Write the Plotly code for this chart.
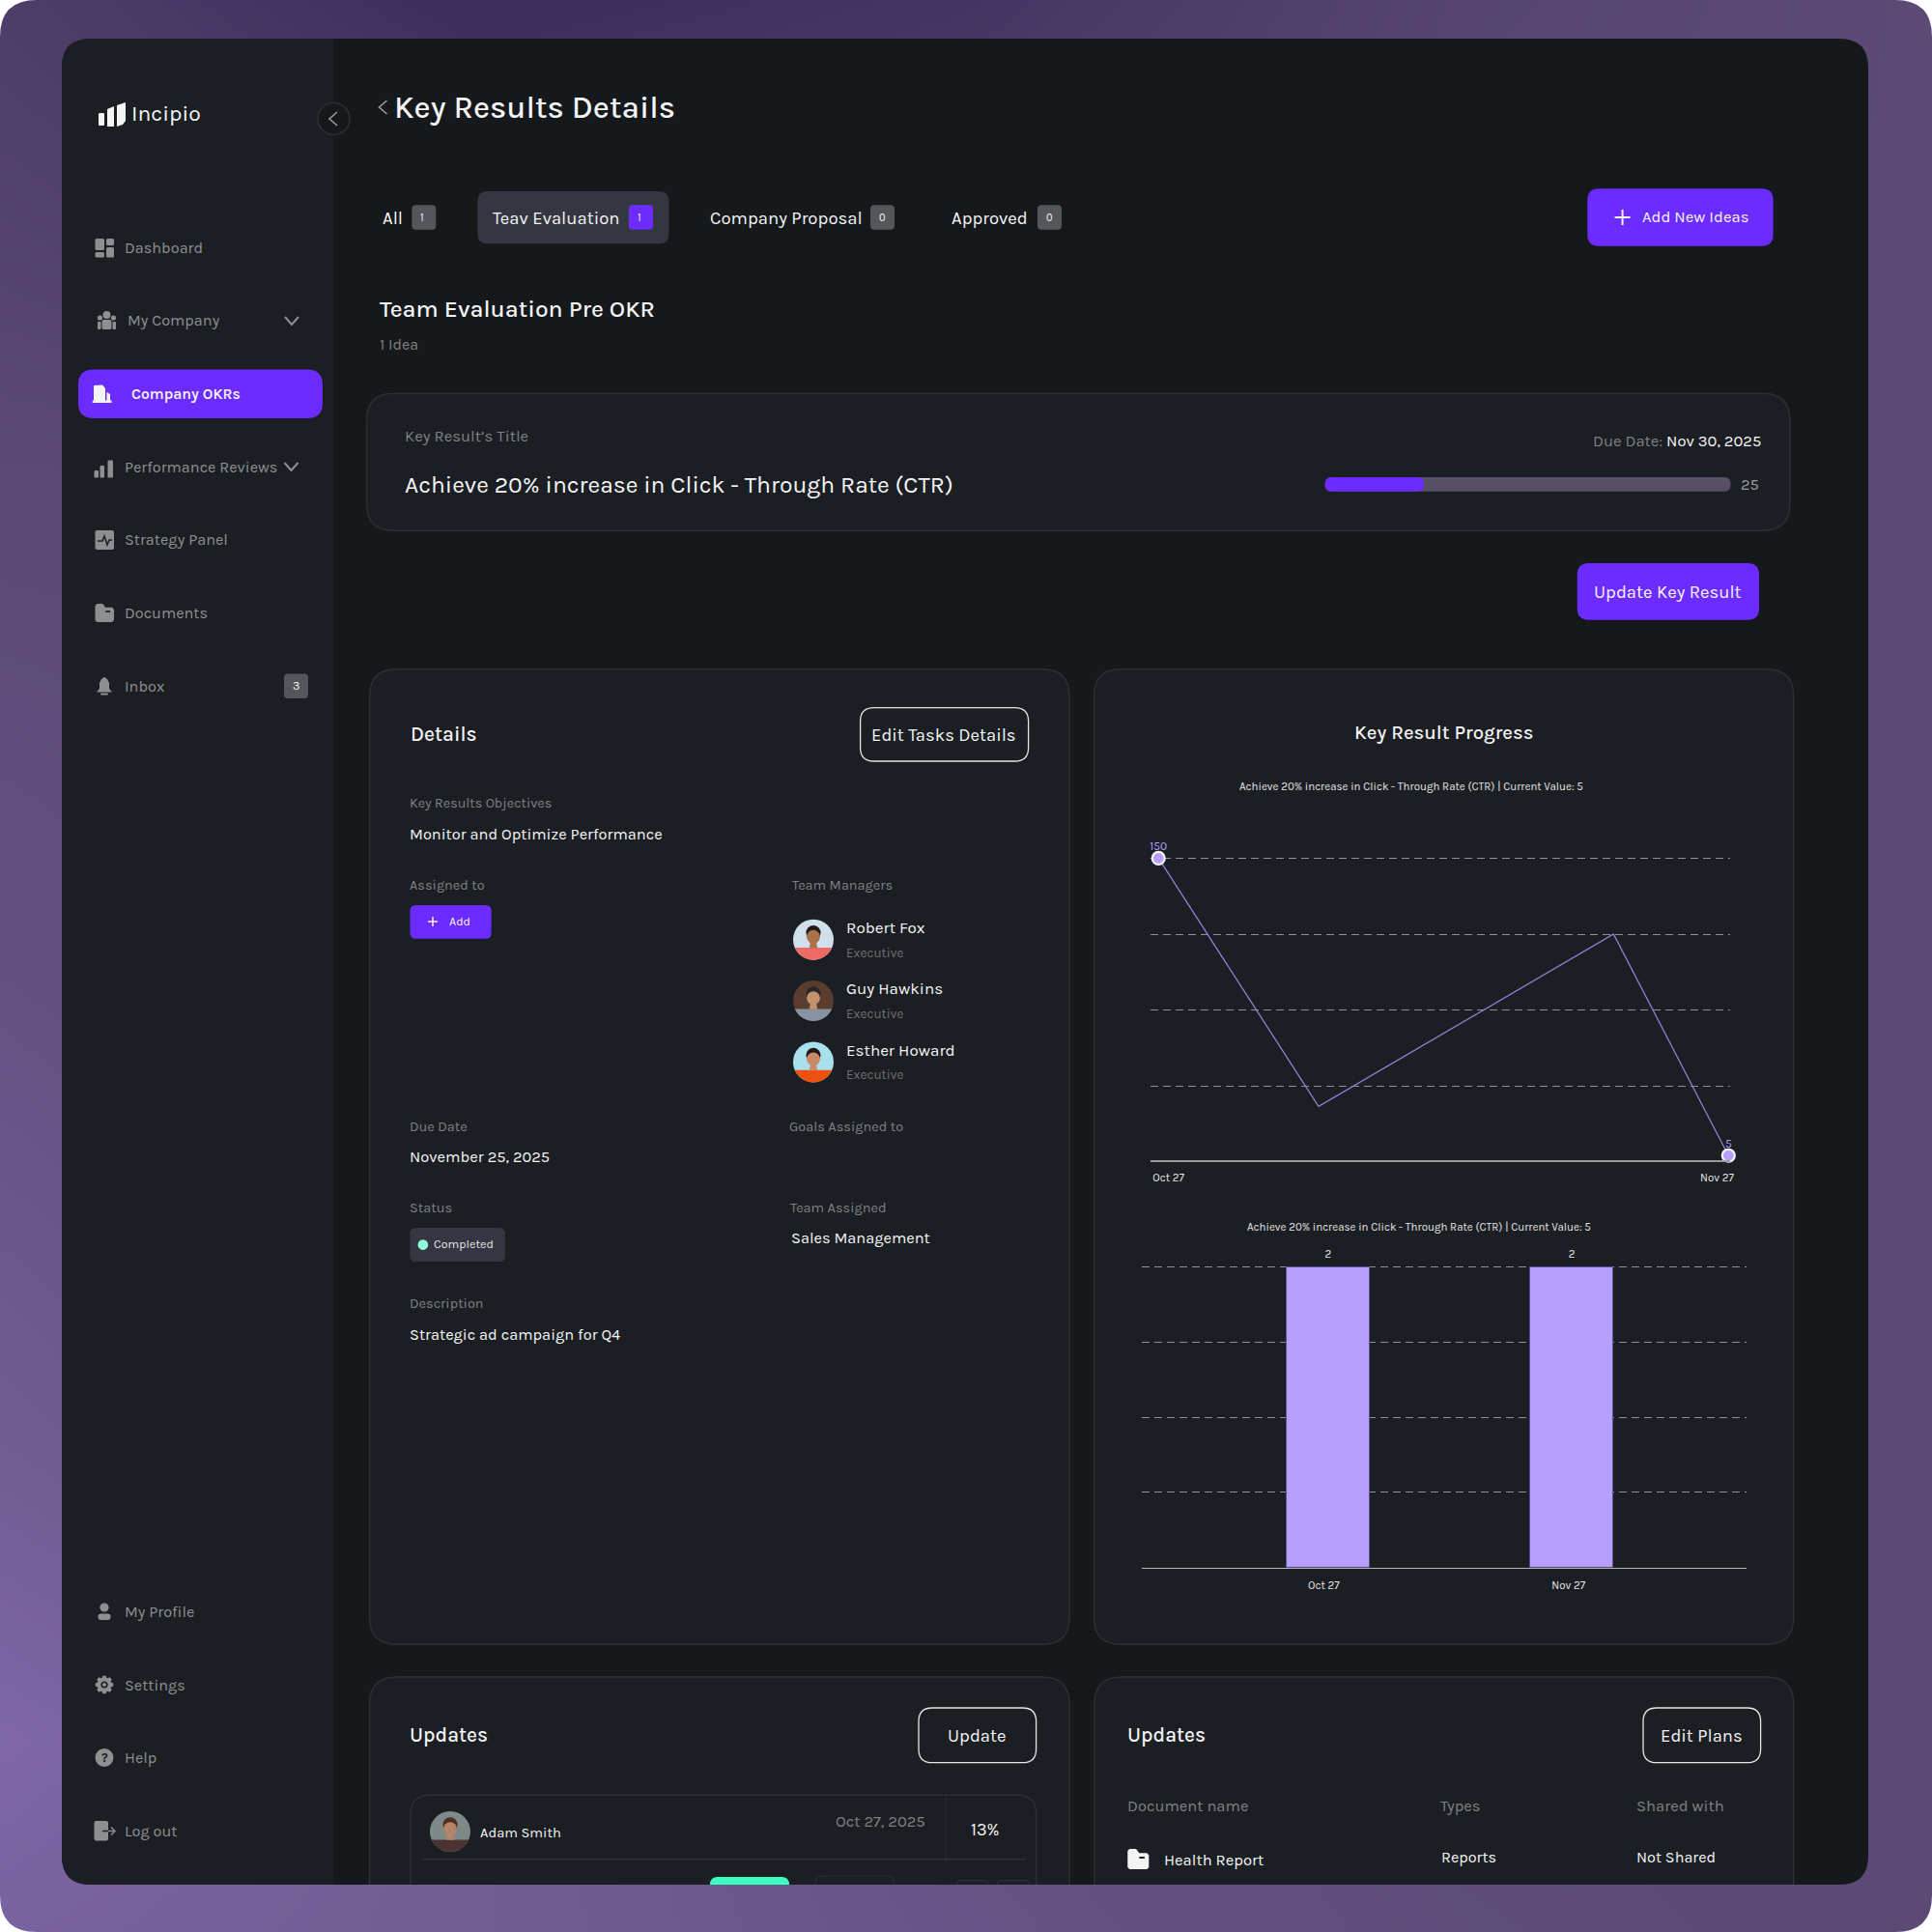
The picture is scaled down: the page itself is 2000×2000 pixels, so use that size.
import math

import plotly.graph_objects as go

# chart data
LINE_TITLE = "Achieve 20% increase in Click - Through Rate (CTR) | Current Value: 5"
LINE_DATES = ["2025-10-27", "2025-11-04 17:00", "2025-11-20 18:00", "2025-11-27"]
LINE_VALUES = [150, 29, 113, 5]
LINE_POINT_LABELS = ["150", "", "", "5"]
LINE_GRID = [150, 113, 76, 39]
LINE_TICKS = ["2025-10-27 13:00", "2025-11-26 09:00"]
LINE_TICK_LABELS = ["Oct 27", "Nov 27"]

BAR_CATEGORIES = ["Oct 27", "Nov 27"]
BAR_VALUES = [2, 2]
BAR_GRID = [0.5, 1, 1.5, 2]
BAR_TICKS = [-0.018, 0.987]  # labels sit a touch left of the bar centres

# page backdrop, coarse brightness grid for the purple wash
BACK_X = [0, 500, 1000, 1500, 2000]
BACK_Y = [0, 500, 1000, 1500, 1800, 2000]
BACK_Z = [
    [0.30, 0.05, 0.16, 0.42, 0.50],
    [0.50, 0.50, 0.50, 0.50, 0.50],
    [0.62, 0.50, 0.50, 0.50, 0.50],
    [0.80, 0.60, 0.50, 0.50, 0.50],
    [0.98, 0.80, 0.62, 0.52, 0.50],
    [0.90, 0.80, 0.66, 0.55, 0.50],
]

SIDEBAR_TOP = ["Dashboard", "My Company", "Company OKRs", "Performance Reviews",
               "Strategy Panel", "Documents", "Inbox"]
SIDEBAR_BOTTOM = ["My Profile", "Settings", "Help", "Log out"]
MANAGERS = ["Robert Fox", "Guy Hawkins", "Esther Howard"]

FONT = "Karla, Lato, 'Open Sans', sans-serif"
PURPLE = "#6c2cff"
LILAC = "#b69fff"
WHITE = "#f4f4f5"
GREY = "#7e8184"
ICON = "#8d8f92"
SIDE_BG = "#1b1f23"
MAIN_BG = "#15191c"
CARD_BG = "#1b1f23"
EDGE = "#2b3036"
BADGE = "#54565b"
CHIP = "#343741"

shapes = []
notes = []


def add_shape(**kw):
    shapes.append(dict(xref="x2", yref="y2", layer="below", **kw))


def rrect_path(x0, y0, x1, y1, r, open_bottom=False):
    top = f"M{x0},{y0 + r} Q{x0},{y0} {x0 + r},{y0} L{x1 - r},{y0} Q{x1},{y0} {x1},{y0 + r} "
    if open_bottom:
        return top + f"L{x1},{y1} L{x0},{y1} Z"
    return top + f"L{x1},{y1 - r} Q{x1},{y1} {x1 - r},{y1} L{x0 + r},{y1} Q{x0},{y1} {x0},{y1 - r} Z"


def box(x0, y0, x1, y1, r=0, fill="rgba(0,0,0,0)", line=None, lw=1.3, open_bottom=False):
    add_shape(type="path", path=rrect_path(x0, y0, x1, y1, r, open_bottom), fillcolor=fill,
              line=dict(color=line or "rgba(0,0,0,0)", width=lw if line else 0))


def open_card(x0, y0, x1, y1, r=28, fill=CARD_BG, line=EDGE, lw=1.5):
    # card that runs off the panel's bottom edge, no bottom border
    box(x0, y0, x1, y1, r, fill=fill, open_bottom=True)
    add_shape(type="path",
              path=f"M{x0},{y1} L{x0},{y0 + r} Q{x0},{y0} {x0 + r},{y0} L{x1 - r},{y0} Q{x1},{y0} {x1},{y0 + r} L{x1},{y1}",
              line=dict(color=line, width=lw))


def circle(cx, cy, r, fill="rgba(0,0,0,0)", line=None, lw=1.3):
    add_shape(type="circle", x0=cx - r, x1=cx + r, y0=cy - r, y1=cy + r, fillcolor=fill,
              line=dict(color=line or "rgba(0,0,0,0)", width=lw if line else 0))


def poly(points, fill=None, line=None, lw=1.6, close=True):
    path = "M" + " L".join(f"{x},{y}" for x, y in points) + (" Z" if close else "")
    add_shape(type="path", path=path, fillcolor=fill or "rgba(0,0,0,0)",
              line=dict(color=line or "rgba(0,0,0,0)", width=lw if line else 0))


def txt(x, y, s, size, color=WHITE, anchor="left", weight=None):
    notes.append(dict(xref="x2", yref="y2", x=x, y=y, text=s, showarrow=False, xanchor=anchor,
                      yanchor="middle", borderpad=0, borderwidth=0,
                      font=dict(family=FONT, size=size, color=color, weight=weight)))


def chevron_down(cx, cy, w=7, h=5, color=ICON):
    poly([(cx - w, cy - h + 1), (cx, cy + h - 1), (cx + w, cy - h + 1)], line=color, lw=2, close=False)


def chevron_left(cx, cy, w=4, h=7, color=ICON):
    poly([(cx + w, cy - h), (cx - w, cy), (cx + w, cy + h)], line=color, lw=1.6, close=False)


def plus(cx, cy, s, color=WHITE, lw=2):
    poly([(cx - s, cy), (cx + s, cy)], line=color, lw=lw, close=False)
    poly([(cx, cy - s), (cx, cy + s)], line=color, lw=lw, close=False)


def disc_segment(cx, cy, r, frac):
    # lower part of a circle, used for the shoulders on the avatars
    a0 = math.asin(frac)
    steps = 16
    return [(cx + r * math.cos(a0 + (math.pi - 2 * a0) * i / steps),
             cy + r * math.sin(a0 + (math.pi - 2 * a0) * i / steps)) for i in range(steps + 1)]


def avatar(cx, cy, r, bg, shirt, skin, hair):
    circle(cx, cy, r, fill=bg)
    poly(disc_segment(cx, cy, r, 0.4), fill=shirt)
    circle(cx, cy - r * 0.34, r * 0.36, fill=hair)
    circle(cx, cy - r * 0.14, r * 0.33, fill=skin)
    poly([(cx - r * 0.14, cy + r * 0.1), (cx + r * 0.14, cy + r * 0.1),
          (cx + r * 0.2, cy + r * 0.42), (cx - r * 0.2, cy + r * 0.42)], fill=skin)


def folder(x0, y0, x1, y1, color):
    w = x1 - x0
    h = y1 - y0
    poly([(x0, y0 + 2), (x0 + 2, y0), (x0 + w * 0.4, y0), (x0 + w * 0.55, y0 + h * 0.2),
          (x1 - 2, y0 + h * 0.2), (x1, y0 + h * 0.3), (x1, y1 - 2), (x1 - 2, y1), (x0 + 2, y1), (x0, y1 - 2)],
         fill=color)
    box(x0 + w * 0.55, y0 + h * 0.38, x0 + w * 0.8, y0 + h * 0.48, 0, fill=SIDE_BG)


def gear(cx, cy, r0, r1, teeth=8):
    pts = []
    for i in range(teeth):
        a = 2 * math.pi * i / teeth
        for da, rr in [(-0.3, r0), (-0.17, r1), (0.17, r1), (0.3, r0)]:
            pts.append((cx + rr * math.cos(a + da), cy + rr * math.sin(a + da)))
    poly(pts, fill=ICON)


# frame --------------------------------------------------------------------
for cx, cy, ox, oy in [(0, 0, 38, 38), (2000, 0, -38, 38), (0, 2000, 38, -38), (2000, 2000, -38, -38)]:
    add_shape(type="path", path=f"M{cx},{cy} L{cx + ox},{cy} Q{cx},{cy} {cx},{cy + oy} Z",
              fillcolor="#ffffff", line=dict(width=0))

box(64, 40, 1934, 1951, 30, fill=MAIN_BG)
add_shape(type="path",
          path="M64,70 Q64,40 94,40 L345,40 L345,1951 L94,1951 Q64,1951 64,1921 Z",
          fillcolor=SIDE_BG, line=dict(width=0))

# sidebar ------------------------------------------------------------------
box(102, 117, 108, 130, 1, fill=WHITE)
poly([(111, 113), (118, 110), (118, 131), (111, 131)], fill=WHITE)
poly([(121, 109), (130, 106), (130, 125), (127, 129), (121, 131)], fill=WHITE)
txt(136, 117, "Incipio", 23)

circle(345.5, 123, 16.5, fill="#15191c", line="#30363b", lw=1.2)
chevron_left(345, 123, 4, 7, "#9a9c9f")

SIDE_Y = [256.5, 331.5, 408, 483, 558.5, 634.6, 710]
SIDE_X = [128.6, 131.5, 135.5, 128.6, 128.6, 128.6, 128.6]
box(81, 382.4, 334, 433, 16, fill=PURPLE)
for label, x, y in zip(SIDEBAR_TOP, SIDE_X, SIDE_Y):
    if label == "Company OKRs":
        txt(x, y, label, 15.8, WHITE, weight=600)
    else:
        txt(x, y, label, 16.3, ICON)
for label, y in zip(SIDEBAR_BOTTOM, [1668, 1744, 1819.5, 1895]):
    txt(128.6, y, label, 16.3, ICON)

# dashboard
box(98.5, 247, 108, 259, 1.5, fill=ICON)
box(110, 247, 118, 254, 1.5, fill=ICON)
box(98.5, 261, 108, 266.5, 1.5, fill=ICON)
box(110, 256, 118, 266.5, 1.5, fill=ICON)
# my company
circle(110.5, 326, 4, fill=ICON)
circle(103.5, 329, 2.6, fill=ICON)
circle(117.5, 329, 2.6, fill=ICON)
box(105.5, 331, 115.5, 341, 2, fill=ICON)
box(101, 333, 104.5, 341, 1, fill=ICON)
box(116.5, 333, 120, 341, 1, fill=ICON)
# company okrs
poly([(97, 415), (97, 399), (106, 398.5), (109, 402), (109, 415)], fill=WHITE)
poly([(110.5, 415), (110.5, 406), (114, 408), (114, 415)], fill=WHITE)
box(95.7, 414.5, 115.5, 417, 0, fill=WHITE)
# performance
box(97.5, 487, 102, 494.5, 1, fill=ICON)
box(103.5, 482, 108, 494.5, 1, fill=ICON)
box(111.5, 476.6, 117, 494.5, 1, fill=ICON)
# strategy
box(98.5, 549, 118, 569, 2, fill=ICON)
poly([(101, 560), (106, 560), (108, 555), (111, 564), (113, 559), (116, 559)], line=SIDE_BG, lw=1.5, close=False)
# documents
folder(98.5, 625, 118, 644, ICON)
# inbox
poly([(100, 716.5), (103, 713), (103, 707), (105, 703), (108, 700.7), (111, 703), (113, 707), (113, 713), (116, 716.5)], fill=ICON)
box(104, 717.5, 112, 719.5, 1, fill=ICON)
box(294, 697.6, 319, 723, 4, fill=BADGE)
txt(306.5, 710, "3", 12.5, WHITE, "center")
chevron_down(302, 332)
chevron_down(301.5, 483)
# profile
circle(108, 1664, 4.6, fill=ICON)
box(101.5, 1670.5, 114.5, 1677, 3, fill=ICON)
# settings
gear(108, 1744, 7.5, 9.5)
circle(108, 1744, 3.6, fill=SIDE_BG)
circle(108, 1744, 2, fill=ICON)
# help
circle(108, 1819.5, 9.5, fill=ICON)
txt(108, 1819.5, "?", 13, SIDE_BG, "center", weight=700)
# log out
box(97.5, 1885, 112, 1905.5, 2, fill=ICON)
poly([(106, 1895.5), (112, 1895.5)], line=SIDE_BG, lw=1.5, close=False)
poly([(112, 1895.5), (118, 1895.5)], line=ICON, lw=1.5, close=False)
poly([(115, 1891.5), (119, 1895.5), (115, 1899.5)], line=ICON, lw=1.5, close=False)

# header and tabs ----------------------------------------------------------
chevron_left(396.5, 111, 4, 7, "#9a9c9f")
txt(408, 111, "Key Results Details", 32.8, WHITE, weight=500)

txt(396, 226, "All", 18.5, WHITE)
box(426.4, 212.3, 451.3, 237.7, 4, fill=BADGE)
txt(437, 225, "1", 11, WHITE, "center")
box(494.4, 198, 692.4, 252.3, 10, fill=CHIP)
txt(510, 226, "Teav Evaluation", 18.5, WHITE)
box(651, 212.3, 676, 237.7, 4, fill=PURPLE)
txt(662, 225, "1", 11, WHITE, "center")
txt(735, 226, "Company Proposal", 18.6, WHITE)
box(901, 212.3, 926, 237.7, 4, fill=BADGE)
txt(913.5, 225, "0", 11, WHITE, "center")
txt(985, 226, "Approved", 18.5, WHITE)
box(1074, 212.3, 1099, 237.7, 4, fill=BADGE)
txt(1086.5, 225, "0", 11, WHITE, "center")

box(1643.3, 195.3, 1835.6, 254.7, 12, fill=PURPLE)
plus(1679.6, 225, 8, WHITE, 2)
txt(1700, 224.5, "Add New Ideas", 16.7, WHITE)

txt(393, 319, "Team Evaluation Pre OKR", 24.7, WHITE, weight=500)
txt(393, 356.7, "1 Idea", 16, GREY)

# key result strip ---------------------------------------------------------
box(379.6, 407.3, 1852.8, 549.3, 28, fill=CARD_BG, line=EDGE, lw=1.5)
txt(419, 451.7, "Key Result’s Title", 16.7, GREY)
txt(419, 501.5, "Achieve 20% increase in Click - Through Rate (CTR)", 24.7, WHITE)
txt(1822.5, 456.7, f"<span style='color:{GREY}'>Due Date:</span> Nov 30, 2025", 16.6, WHITE, "right")
box(1371.6, 494, 1791.6, 508.7, 7, fill="#574f66")
box(1371.6, 494, 1474, 508.7, 7, fill=PURPLE)
txt(1802, 501.5, "25", 16.5, "#9a9c9f")

box(1632.8, 583, 1821, 641.7, 12, fill=PURPLE)
txt(1726.5, 612.5, "Update Key Result", 18.5, WHITE, "center")

# details card -------------------------------------------------------------
box(382.6, 692.8, 1107, 1702.3, 28, fill=CARD_BG, line=EDGE, lw=1.5)
txt(424.5, 759.7, "Details", 21, WHITE, weight=500)
box(890.6, 732.6, 1064.6, 788, 14, line="#e6e6e6", lw=1.3)
txt(977.3, 761, "Edit Tasks Details", 18.5, WHITE, "center")
txt(424, 831.8, "Key Results Objectives", 14.3, GREY)
txt(424, 863.5, "Monitor and Optimize Performance", 16.4, WHITE)
txt(424, 916, "Assigned to", 14.5, GREY)
txt(820.3, 916, "Team Managers", 14.5, GREY)
box(424.5, 937, 508.6, 971.8, 6, fill=PURPLE)
plus(448, 954, 5, WHITE, 1.5)
txt(465, 953.5, "Add", 12.5, WHITE)

avatar(842, 972.7, 21, "#cfe0ea", "#ef6a66", "#a8714a", "#241814")
avatar(842, 1036, 21, "#5a3d2e", "#8892a0", "#c39270", "#26262b")
avatar(842, 1099.4, 21, "#a8e0ec", "#f0500f", "#c88a68", "#241a18")
for name, y_name, y_role in zip(MANAGERS, [960, 1023, 1086.5], [986, 1049.4, 1112.8]):
    txt(875.5, y_name, name, 17, WHITE)
    txt(875.5, y_role, "Executive", 13.5, "#6f7275")

txt(424, 1166, "Due Date", 14.5, GREY)
txt(424, 1197.7, "November 25, 2025", 16.5, WHITE)
txt(816.5, 1166, "Goals Assigned to", 14.5, GREY)
txt(424, 1250, "Status", 14.5, GREY)
txt(818, 1250, "Team Assigned", 14.5, GREY)
txt(818.5, 1281.5, "Sales Management", 16.4, WHITE)
box(424.5, 1271, 523, 1306, 6, fill=CHIP)
circle(437.9, 1288.6, 5.3, fill="#8effd8")
txt(449, 1287.7, "Completed", 12.5, "#e6e6e6")
txt(424, 1349, "Description", 14.5, GREY)
txt(424, 1381, "Strategic ad campaign for Q4", 16.4, WHITE)

# progress card (charts sit on top of it) ---------------------------------
box(1132.5, 692.8, 1856.7, 1702.3, 28, fill=CARD_BG, line=EDGE, lw=1.5)
txt(1494.8, 757.5, "Key Result Progress", 20.4, WHITE, "center", weight=500)
txt(1460.8, 814, LINE_TITLE, 11.5, "#e6e6e6", "center")
txt(1469, 1269.7, LINE_TITLE, 11.5, "#e6e6e6", "center")

# bottom cards, cut off by the panel edge ----------------------------------
open_card(382.6, 1736, 1107, 1951)
open_card(1133, 1736, 1856.7, 1951)

txt(424, 1796, "Updates", 21, WHITE, weight=500)
box(951, 1768, 1072.6, 1824.7, 14, line="#e6e6e6", lw=1.3)
txt(1011.8, 1797, "Update", 18.5, WHITE, "center")
open_card(425, 1858.3, 1072.6, 1951, r=20, fill=CARD_BG)
avatar(466, 1896, 21, "#7f8a88", "#4a3332", "#b48568", "#4a3022")
txt(496.7, 1897, "Adam Smith", 14.7, WHITE)
txt(957.8, 1885.7, "Oct 27, 2025", 16.6, GREY, "right")
add_shape(type="line", x0=978.9, x1=978.9, y0=1860, y1=1924, line=dict(color=EDGE, width=1))
txt(1019.5, 1893.7, "13%", 18, WHITE, "center")
add_shape(type="line", x0=437.4, x1=1061, y0=1924.7, y1=1924.7, line=dict(color=EDGE, width=2))
open_card(735, 1943, 817, 1951, r=8, fill="#3dffbf", line="#3dffbf", lw=0)
open_card(844, 1942, 926, 1951, r=8, fill=CARD_BG, line=EDGE, lw=1.2)
open_card(991, 1946.7, 1023, 1951, r=4, fill=CARD_BG, line=EDGE, lw=1.2)
open_card(1032.4, 1946.7, 1065, 1951, r=4, fill=CARD_BG, line=EDGE, lw=1.2)

txt(1166.5, 1796, "Updates", 21, WHITE, weight=500)
box(1701, 1768, 1822.6, 1824.7, 14, line="#e6e6e6", lw=1.3)
txt(1761.8, 1797, "Edit Plans", 18.5, WHITE, "center")
txt(1166.5, 1869.3, "Document name", 16.5, GREY)
txt(1490.7, 1869.3, "Types", 16.5, GREY)
txt(1694.4, 1869.3, "Shared with", 16.6, GREY)
folder(1167.3, 1914, 1189.3, 1935, WHITE)
txt(1204.6, 1925.7, "Health Report", 16.6, WHITE)
txt(1491.6, 1922.7, "Reports", 16.2, WHITE)
txt(1694.4, 1922.7, "Not Shared", 16.2, WHITE)

# traces -------------------------------------------------------------------
fig = go.Figure()
fig.add_trace(go.Heatmap(
    x=BACK_X, y=BACK_Y, z=BACK_Z, zmin=0, zmax=1, zsmooth="best", showscale=False, hoverinfo="skip",
    colorscale=[[0, "#382a58"], [0.5, "#5a4a74"], [1, "#8068aa"]],
    xaxis="x", yaxis="y",
))
fig.add_trace(go.Scatter(x=[None], y=[None], xaxis="x2", yaxis="y2", showlegend=False, hoverinfo="skip"))
fig.add_trace(go.Scatter(
    x=LINE_DATES, y=LINE_VALUES, mode="lines+markers",
    line=dict(color="#8f7fd6", width=1.3),
    marker=dict(color=LILAC, opacity=1, size=[13 if t else 0 for t in LINE_POINT_LABELS],
                line=dict(color="#f4f4f5", width=[2.2 if t else 0 for t in LINE_POINT_LABELS])),
    cliponaxis=False, showlegend=False, xaxis="x3", yaxis="y3",
))
# labels sit in their own trace so the gap above the point can be set
fig.add_trace(go.Scatter(
    x=LINE_DATES, y=LINE_VALUES, text=LINE_POINT_LABELS, mode="markers+text",
    textposition="top center", textfont=dict(family=FONT, size=12, color=LILAC),
    marker=dict(size=7, opacity=0), hoverinfo="skip",
    cliponaxis=False, showlegend=False, xaxis="x3", yaxis="y3",
))
fig.add_trace(go.Bar(
    x=BAR_CATEGORIES, y=BAR_VALUES, width=0.343,
    marker=dict(color=LILAC, line=dict(color="#5c4f99", width=1)),
    showlegend=False, xaxis="x4", yaxis="y4",
))
fig.add_trace(go.Scatter(
    x=BAR_CATEGORIES, y=BAR_VALUES, text=BAR_VALUES, mode="markers+text",
    textposition="top center", textfont=dict(family=FONT, size=11.5, color="#e6e6e6"),
    marker=dict(size=10, opacity=0), hoverinfo="skip",
    cliponaxis=False, showlegend=False, xaxis="x4", yaxis="y4",
))


def dom_x(a, b):
    return [a / 2000, b / 2000]


def dom_y(top, bottom):
    return [1 - bottom / 2000, 1 - top / 2000]


hidden = dict(visible=False, fixedrange=True)
grid = dict(showgrid=True, gridcolor="#8d8f92", griddash="8px,5px", gridwidth=1.2, zeroline=False,
            showline=False, showticklabels=False, ticks="", tickmode="array", fixedrange=True)
axis_font = dict(family=FONT, size=11.5, color="#e6e6e6")

fig.update_layout(
    width=2000, height=2000, autosize=False, margin=dict(l=0, r=0, t=0, b=0, pad=0, autoexpand=False),
    paper_bgcolor="#ffffff", plot_bgcolor="rgba(0,0,0,0)", showlegend=False, bargap=0,
    xaxis=dict(domain=[0, 1], range=[0, 2000], anchor="y", **hidden),
    yaxis=dict(domain=[0, 1], range=[2000, 0], anchor="x", **hidden),
    xaxis2=dict(domain=[0, 1], range=[0, 2000], anchor="y2", **hidden),
    yaxis2=dict(domain=[0, 1], range=[2000, 0], anchor="x2", **hidden),
    xaxis3=dict(
        domain=dom_x(1191.3, 1790.5), anchor="y3", type="date",
        range=["2025-10-26 14:00", "2025-11-27 01:30"],
        tickmode="array", tickvals=LINE_TICKS, ticktext=LINE_TICK_LABELS, tickfont=axis_font,
        showgrid=False, showline=True, linecolor="#9a9c9f", linewidth=1.5, ticks="",
        ticklabelstandoff=7, zeroline=False, fixedrange=True,
    ),
    yaxis3=dict(domain=dom_y(870, 1200.7), anchor="x3", range=[2.9, 158.7], tickvals=LINE_GRID, **grid),
    xaxis4=dict(
        domain=dom_x(1182, 1808), anchor="y4", type="category", range=[-0.765, 1.718],
        categoryorder="array", categoryarray=BAR_CATEGORIES,
        tickmode="array", tickvals=BAR_TICKS, ticktext=BAR_CATEGORIES,
        tickfont=axis_font, showgrid=False, showline=True, linecolor="#b5b7b9", linewidth=1.3,
        ticks="", ticklabelstandoff=8, zeroline=False, fixedrange=True,
    ),
    yaxis4=dict(domain=dom_y(1290, 1622.5), anchor="x4", range=[0, 2.14], tickvals=BAR_GRID, **grid),
    shapes=shapes, annotations=notes,
)

# page must be exactly 2000px: no body margin, no inline gap under the plot
PAGE_FIX = """
var root = document.documentElement, body = document.body;
var graph = document.querySelector('.plotly-graph-div');
root.style.height = body.style.height = '2000px';
root.style.overflow = body.style.overflow = 'hidden';
body.style.margin = '0';
body.style.fontSize = '0';
graph.style.display = 'block';
graph.parentNode.style.height = '2000px';
graph.parentNode.style.overflow = 'hidden';
"""
fig.write_html("out.html", config=dict(displayModeBar=False), post_script=PAGE_FIX)
